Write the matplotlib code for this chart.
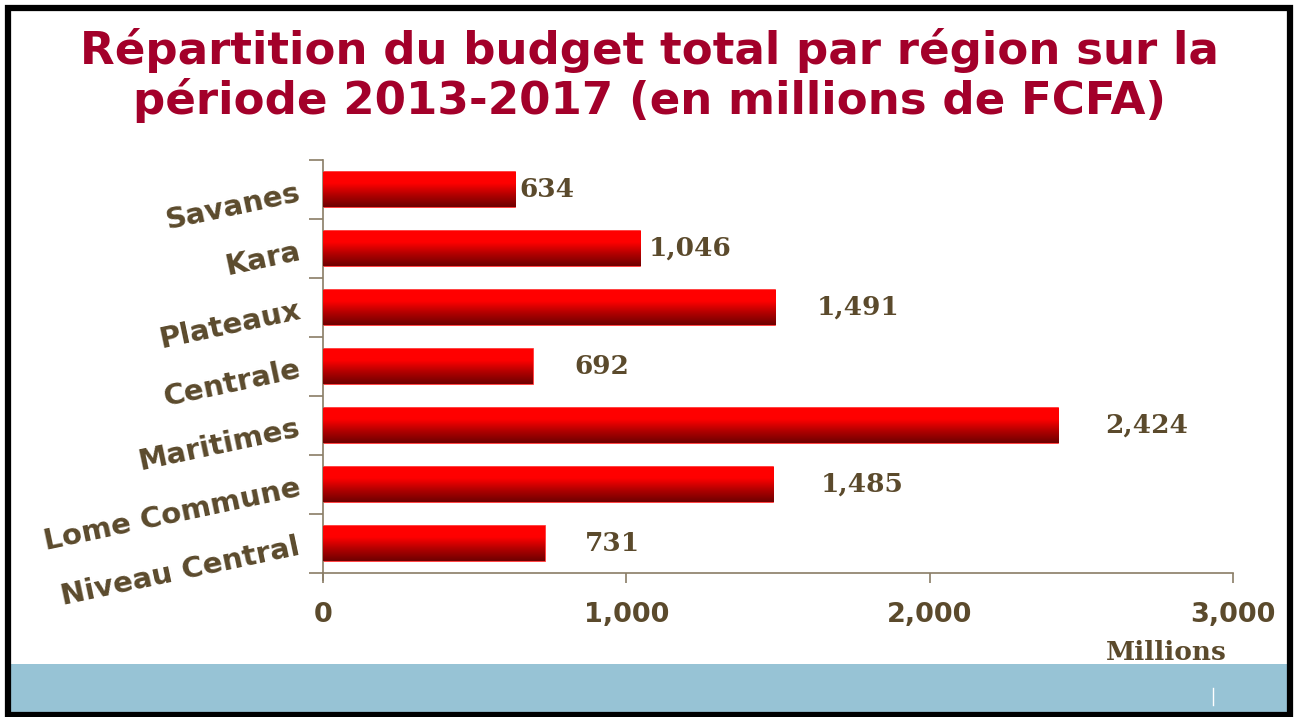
import numpy as np
import matplotlib
matplotlib.use("Agg")
import matplotlib.pyplot as plt
import matplotlib.ticker as ticker
from matplotlib.patches import Rectangle

# data, bottom to top as drawn
regions = ['Niveau Central', 'Lome Commune', 'Maritimes', 'Centrale',
           'Plateaux', 'Kara', 'Savanes']
budget = [731, 1485, 2424, 692, 1491, 1046, 634]
x_ticks = [0, 1000, 2000, 3000]

# offset (points) of each value label from its bar end
label_pad = [29, 34, 34, 30, 30, 6, 3]

BROWN = '#5b4a2c'
TITLE_RED = '#a3002a'

W, H = 1296, 717
fig = plt.figure(figsize=(W / 100, H / 100), dpi=100)
fig.patch.set_facecolor('white')

# black frame + blue footer band
fig.patches.append(Rectangle((10 / W, 0), 1277 / W, (717 - 664) / H,
                             transform=fig.transFigure, facecolor='#97c3d5',
                             edgecolor='none', zorder=0))
fig.patches.append(Rectangle((7.5 / W, 2 / H), 1282 / W, 707 / H,
                             transform=fig.transFigure, facecolor='none',
                             edgecolor='black', linewidth=4.5, zorder=1))
fig.lines.append(plt.Line2D([1213 / W, 1213 / W], [(717 - 705) / H, (717 - 688) / H],
                            transform=fig.transFigure, color='white', lw=1))

fig.text(0.501, 0.929, 'Répartition du budget total par région sur la',
         ha='center', va='center', fontsize=32.5, fontweight='bold',
         color=TITLE_RED, family='DejaVu Sans')
fig.text(0.501, 0.860, 'période 2013-2017 (en millions de FCFA)',
         ha='center', va='center', fontsize=32.5, fontweight='bold',
         color=TITLE_RED, family='DejaVu Sans')

ax = fig.add_axes([323 / W, 144 / H, 910 / W, 413 / H])
y = np.arange(len(regions))
bars = ax.barh(y, budget, height=0.6, color='#e00000', edgecolor='#ff2020',
               linewidth=1.2, zorder=2)

# vertical red gradient on every bar
grad = np.linspace(0, 1, 256).reshape(-1, 1)
cmap = matplotlib.colors.LinearSegmentedColormap.from_list(
    'redgrad', ['#6e0000', '#b00000', '#ff0000', '#ff0000'])
for b in bars:
    x0, y0 = b.get_x(), b.get_y()
    im = ax.imshow(grad, extent=[x0, x0 + b.get_width(), y0, y0 + b.get_height()],
                   origin='lower', aspect='auto', cmap=cmap, zorder=3,
                   interpolation='bicubic')
    im.set_clip_path(b)

for yi, v, pad in zip(y, budget, label_pad):
    ax.annotate(f'{v:,}', (v, yi), xytext=(pad, 0), textcoords='offset points',
                ha='left', va='center', fontsize=19, fontweight='bold',
                color=BROWN, family='DejaVu Serif')

ax.set_xlim(0, 3000)
ax.set_ylim(-0.5, len(regions) - 0.5)
ax.set_xticks(x_ticks)
ax.xaxis.set_major_formatter(ticker.FuncFormatter(lambda v, p: f'{int(v):,}'))
ax.set_yticks(y)
ax.set_yticks(np.arange(-0.5, len(regions)), minor=True)
ax.set_yticklabels(regions, rotation=12, fontsize=21, fontweight='bold',
                   color=BROWN, family='DejaVu Sans', ha='right',
                   rotation_mode='anchor')
ax.tick_params(axis='y', which='major', length=0, pad=17)
ax.tick_params(axis='y', which='minor', length=10, width=1.2, color='#8a7d66')
ax.tick_params(axis='x', length=7, width=1.2, color='#8a7d66', pad=14)
for t in ax.get_xticklabels():
    t.set_fontsize(19.5)
    t.set_fontweight('bold')
    t.set_color(BROWN)
    t.set_family('DejaVu Sans')

for s in ['top', 'right']:
    ax.spines[s].set_visible(False)
for s in ['left', 'bottom']:
    ax.spines[s].set_color('#8a7d66')
    ax.spines[s].set_linewidth(1.2)
ax.spines['left'].set_bounds(-0.62, len(regions) - 0.5)

fig.text(1166 / W, 1 - 652 / H, 'Millions', ha='center', va='center',
         fontsize=19, fontweight='bold', color=BROWN, family='DejaVu Serif')

fig.savefig('out.png', dpi=100)
